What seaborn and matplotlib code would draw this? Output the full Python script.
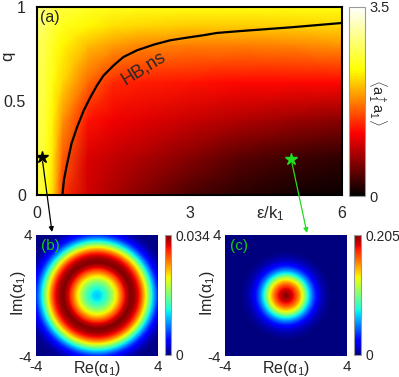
import numpy as np
import matplotlib
matplotlib.use('Agg')
import matplotlib.pyplot as plt
import seaborn as sns
from matplotlib.colors import LinearSegmentedColormap

# heatmap (a): <a1+a1> at a few nodes
eps_nodes = [0, 0.2, 0.3, 0.5, 1, 1.5, 2, 3, 4, 5, 6]
q_nodes = [0, 0.2, 0.4, 0.6, 0.8, 0.9, 1.0]
n_q0 = [2.7, 2.4, 2.2, 1.4, 0.95, 0.78, 0.62, 0.35, 0.2, 0.1, 0.05]
n_q02 = [2.7, 2.45, 2.25, 1.6, 1.0, 0.9, 0.82, 0.62, 0.42, 0.3, 0.22]
n_q04 = [2.75, 2.5, 2.3, 1.85, 1.25, 1.12, 1.05, 0.92, 0.82, 0.72, 0.63]
n_q06 = [2.75, 2.55, 2.4, 2.15, 1.65, 1.35, 1.3, 1.25, 1.2, 1.2, 1.2]
n_q08 = [2.8, 2.6, 2.5, 2.3, 2.05, 1.9, 1.8, 1.75, 1.75, 1.78, 1.85]
n_q09 = [2.85, 2.7, 2.6, 2.45, 2.3, 2.2, 2.15, 2.1, 2.1, 2.12, 2.15]
n_q1 = [2.9, 2.8, 2.7, 2.6, 2.5, 2.45, 2.42, 2.4, 2.4, 2.4, 2.4]

# HB,ns boundary
hb_eps = [0.50, 0.53, 0.58, 0.68, 0.79, 0.92, 1.05, 1.18, 1.31, 1.51, 1.70, 1.97,
          2.30, 2.62, 2.95, 3.28, 3.54, 4.0, 5.0, 6.0]
hb_q = [0.0, 0.08, 0.15, 0.275, 0.362, 0.45, 0.52, 0.583, 0.636, 0.69, 0.734, 0.77,
        0.80, 0.823, 0.837, 0.85, 0.862, 0.872, 0.892, 0.915]

# marked points
star_b = (0.1, 0.2)
star_c = (5.0, 0.19)

# Wigner functions, radial profiles (fraction of max)
b_r = [0, 0.3, 0.7, 1.0, 1.3, 1.6, 1.9, 2.2, 2.5, 2.8, 3.1, 3.4, 3.7, 4.0, 4.4, 4.8, 6.0]
b_w = [0.32, 0.35, 0.45, 0.55, 0.67, 0.8, 0.93, 1.0, 0.97, 0.88, 0.72, 0.52, 0.32, 0.17, 0.06, 0.01, 0.0]
b_max = 0.034
c_r = [0, 0.4, 0.7, 0.95, 1.1, 1.3, 1.45, 1.7, 1.95, 2.25, 2.6, 3.0, 6.0]
c_w = [1.0, 0.93, 0.82, 0.71, 0.62, 0.5, 0.38, 0.25, 0.15, 0.07, 0.025, 0.0, 0.0]
c_max = 0.205

sns.set_style('ticks')
plt.rcParams['font.family'] = ['Liberation Sans', 'DejaVu Sans']
plt.rcParams['mathtext.fontset'] = 'custom'
plt.rcParams['mathtext.rm'] = 'Liberation Sans'
plt.rcParams['mathtext.it'] = 'Liberation Sans'

W, H = 399, 377
def rect(x0, y0, x1, y1):
    return [x0 / W, 1 - y1 / H, (x1 - x0) / W, (y1 - y0) / H]

fig = plt.figure(figsize=(W / 100, H / 100), dpi=100)
ax_a = fig.add_axes(rect(37, 7, 342, 195))
cax_a = fig.add_axes(rect(349, 7, 365, 196))
ax_b = fig.add_axes(rect(36, 235, 158, 356))
cax_b = fig.add_axes(rect(165, 235, 171, 355))
ax_c = fig.add_axes(rect(225, 235, 347, 356))
cax_c = fig.add_axes(rect(354, 235, 361, 355))

# gnuplot style "hot" palette
hot = LinearSegmentedColormap.from_list('gp_hot', [(0, 'black'), (1/3, 'red'), (2/3, 'yellow'), (1, 'white')])

Z = np.array([n_q0, n_q02, n_q04, n_q06, n_q08, n_q09, n_q1])
mesh = ax_a.pcolormesh(eps_nodes, q_nodes, Z, cmap=hot, vmin=0, vmax=3.5, shading='gouraud')
sns.lineplot(x=hb_eps, y=hb_q, sort=False, estimator=None, color='black', lw=1.6, ax=ax_a)
ax_a.set_xlim(0, 6)
ax_a.set_ylim(0, 1)
ax_a.set_xticks(range(7))
ax_a.set_xticklabels(['0', '', '', '3', '', '', '6'])
ax_a.set_yticks([0, 0.5, 1])
ax_a.set_yticklabels(['0', '0.5', '1'])
ax_a.tick_params(direction='in', top=True, right=True, length=4, width=1.2,
                 labelsize=11.5, pad=8)
for t in ax_a.xaxis.get_major_ticks():
    t.tick1line.set_color('#1fc6c6')
    t.tick2line.set_color('black')
for s in ax_a.spines.values():
    s.set_color('black')
    s.set_linewidth(1.5)
ax_a.text(2.09, 0.676, 'HB,ns', rotation=32, ha='center', va='center', fontsize=13)
ax_a.text(0.01, 0.985, '(a)', transform=ax_a.transAxes, ha='left', va='top', fontsize=11.5)
ax_a.plot(*star_b, marker='*', ms=9, color='black', clip_on=False)
ax_a.plot(*star_c, marker='*', ms=9, color='#22dd22', clip_on=False)
fig.text(8 / W, 1 - 56 / H, 'q', rotation=90, ha='center', va='center', fontsize=12)
fig.text(270 / W, 1 - 214 / H, 'ε/k$_1$', ha='center', va='center', fontsize=12)

cb_a = fig.colorbar(mesh, cax=cax_a, ticks=[0, 3.5])
cb_a.ax.set_yticklabels(['0', '3.5'])
cb_a.ax.tick_params(length=0, labelsize=10.5, pad=3)
cb_a.outline.set_edgecolor('#9a9a9a')
fig.text(377 / W, 1 - 102 / H, r'$\langle$a$_1^\dagger$a$_1\rangle$', rotation=270,
         ha='center', va='center', fontsize=10.5)

# arrows to the Wigner panels
ax_a.annotate('', xy=(52, H - 232), xycoords='figure pixels', xytext=star_b, textcoords='data',
              arrowprops=dict(arrowstyle='-|>', color='black', lw=0.9, shrinkA=3, shrinkB=0,
                              mutation_scale=7), annotation_clip=False)
ax_a.annotate('', xy=(307, H - 233), xycoords='figure pixels', xytext=star_c, textcoords='data',
              arrowprops=dict(arrowstyle='-|>', color='#22dd22', lw=0.9, shrinkA=3, shrinkB=0,
                              mutation_scale=7), annotation_clip=False)

x = np.linspace(-4, 4, 241)
X, Y = np.meshgrid(x, x)
R = np.hypot(X, Y)
for ax, cax, rr, ww, vmax, lab in [(ax_b, cax_b, b_r, b_w, b_max, '(b)'),
                                   (ax_c, cax_c, c_r, c_w, c_max, '(c)')]:
    img = np.interp(R, rr, ww) * vmax
    im = ax.imshow(img, cmap='jet', vmin=0, vmax=vmax, extent=[-4, 4, -4, 4],
                   origin='lower', aspect='auto', interpolation='bilinear')
    ax.set_xticks([-4, 4])
    ax.set_yticks([-4, 4])
    ax.set_xticklabels(['-4', '4'])
    ax.set_yticklabels(['-4', '4'])
    ax.tick_params(length=0, labelsize=11, pad=3)
    for s in ax.spines.values():
        s.set_visible(False)
    ax.set_xlabel('Re(α$_1$)', fontsize=11.5, va='center')
    ax.xaxis.set_label_coords(0.5, -0.1)
    ax.set_ylabel('Im(α$_1$)', fontsize=11.5, va='center')
    ax.yaxis.set_label_coords(-0.14, 0.52)
    ax.text(0.04, 0.97, lab, transform=ax.transAxes, ha='left', va='top',
            fontsize=11, color='#11cc11')
    cb = fig.colorbar(im, cax=cax, ticks=[0, vmax])
    cb.ax.set_yticklabels(['0', f'{vmax:g}'])
    cb.ax.tick_params(length=0, labelsize=10, pad=3)
    cb.outline.set_edgecolor('#9a9a9a')

fig.savefig('out.png', dpi=100)
